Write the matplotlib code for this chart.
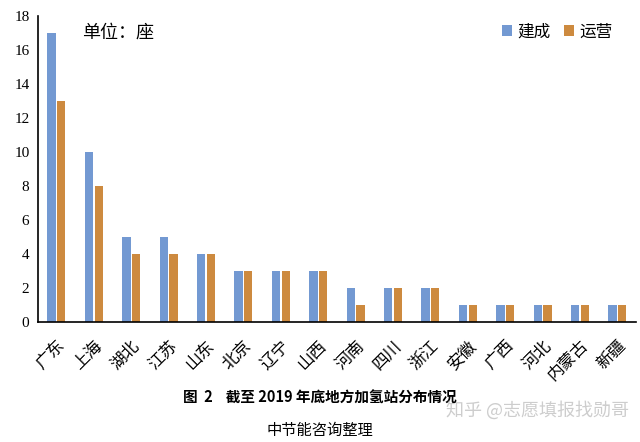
import matplotlib
matplotlib.use("Agg")
import matplotlib.pyplot as plt
import numpy as np

plt.rcParams['font.family'] = ['Noto Sans CJK SC', 'DejaVu Sans']

provinces = ["广东", "上海", "湖北", "江苏", "山东", "北京", "辽宁", "山西",
             "河南", "四川", "浙江", "安徽", "广西", "河北", "内蒙古", "新疆"]
built = [17, 10, 5, 5, 4, 3, 3, 3, 2, 2, 2, 1, 1, 1, 1, 1]
operating = [13, 8, 4, 4, 4, 3, 3, 3, 1, 2, 2, 1, 1, 1, 1, 1]
yticks = [0, 2, 4, 6, 8, 10, 12, 14, 16, 18]

blue = "#7399d2"
orange = "#cd8a3f"

fig = plt.figure(figsize=(6.4, 4.42), dpi=100)
ax = fig.add_axes([0.059, 0.2715, 0.935, 0.692])

x = np.arange(len(provinces))
w = 0.22
ax.bar(x - 0.13, built, width=w, color=blue, label="建成")
ax.bar(x + 0.13, operating, width=w, color=orange, label="运营")

ax.set_xlim(-0.5, len(provinces) - 0.5)
ax.set_ylim(0, 18)
ax.set_yticks(yticks)
ax.set_yticklabels([str(v) for v in yticks], fontsize=11, family=['Liberation Serif'])
ax.set_xticks(x)
ax.set_xticklabels(provinces, rotation=45, ha='right', rotation_mode='anchor', fontsize=12)
ax.tick_params(axis='both', length=0, pad=6)
ax.tick_params(axis='x', pad=11)
for s in ['top', 'right']:
    ax.spines[s].set_visible(False)
ax.spines['left'].set_color('black')
ax.spines['bottom'].set_color('black')
ax.spines['left'].set_linewidth(1.2)
ax.spines['bottom'].set_linewidth(1.2)

ax.text(0.074, 0.975, "单位：座", transform=ax.transAxes, fontsize=13, va='top', ha='left')

leg = ax.legend(loc='upper right', bbox_to_anchor=(0.985, 1.025), ncol=2, frameon=False,
                fontsize=12, handlelength=0.6, handleheight=0.6, handletextpad=0.3,
                columnspacing=0.8)

fig.text(0.5, 0.101, "图  2    截至 2019 年底地方加氢站分布情况", ha='center', va='center',
         fontsize=10.5, fontweight='bold')
fig.text(0.5, 0.027, "中节能咨询整理", ha='center', va='center', fontsize=11)
fig.text(0.84, 0.072, "知乎 @志愿填报找勋哥", ha='center', va='center', fontsize=13,
         color='#c8c8c8', alpha=0.9)

fig.savefig("out.png", dpi=100, facecolor='white')
